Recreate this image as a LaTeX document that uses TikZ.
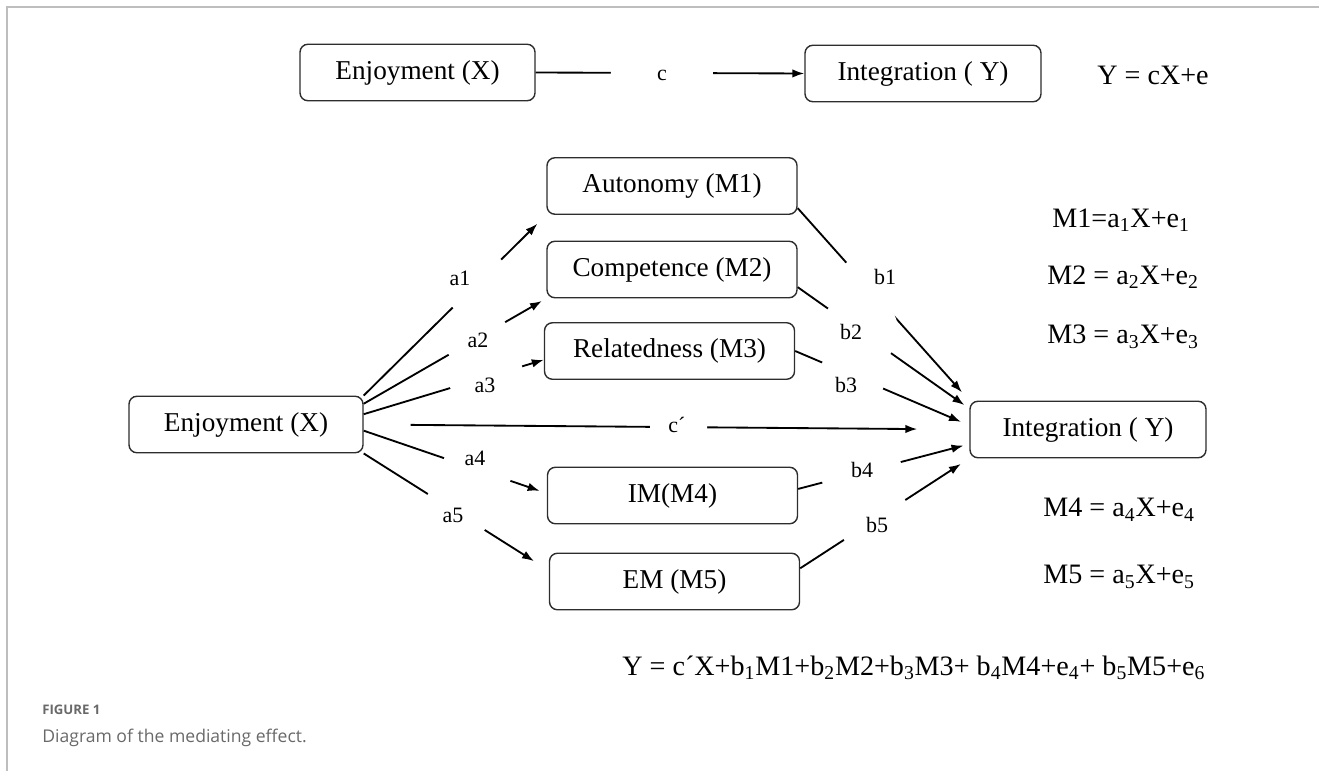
\documentclass[tikz,border=0pt]{standalone}
\usepackage{fontspec}
\setmainfont{Liberation Serif}
\newfontfamily\capfont{Open Sans}
\usetikzlibrary{arrows.meta}
\definecolor{framegray}{RGB}{190,190,190}
\definecolor{capgray}{RGB}{105,105,105}
\definecolor{boxline}{RGB}{45,45,45}
\tikzset{
  gap/.style={circle,fill=white,inner sep=0pt},
  pathlbl/.style={inner sep=0pt,font=\fontsize{12.5}{15}\selectfont},
  eqn/.style={anchor=west,inner sep=0pt,font=\fontsize{16}{19}\selectfont}
}
\begin{document}
\begin{tikzpicture}
        \useasboundingbox (0,0) rectangle (26.38,-15.42);
        \draw[framegray,line width=0.04cm] (0.14,-15.42) -- (0.14,-0.14) -- (26.38,-0.14);
        \begin{scope}[every node/.style={rectangle,draw=boxline,line width=0.8pt,rounded corners=4.5pt,
            minimum width=5cm,minimum height=1.13cm,inner sep=0pt,font=\fontsize{15.5}{18}\selectfont}]
          \node[minimum width=4.7cm]  (topX) at (8.35,-1.45)  {Enjoyment (X)};
          \node[minimum width=4.72cm] (topY) at (18.46,-1.47) {Integration ( Y)};
          \node[minimum width=4.68cm] (X)    at (4.92,-8.49)  {Enjoyment (X)};
          \node (M1) at (13.44,-3.72)  {Autonomy (M1)};
          \node (M2) at (13.44,-5.39)  {Competence (M2)};
          \node (M3) at (13.39,-7.02)  {Relatedness (M3)};
          \node (M4) at (13.45,-9.91)  {IM(M4)};
          \node (M5) at (13.49,-11.63) {EM (M5)};
          \node[minimum width=4.72cm] (Y) at (21.76,-8.59) {Integration ( Y)};
        \end{scope}
        \begin{scope}[every edge/.style={draw=black,line width=1.05pt,-{Latex[length=2.4mm,width=1.7mm]}}]
          \path (topX.east) edge node[gap,pos=.47,minimum size=2.04cm] (gc) {} (topY.west);
          \path (X.north east) edge[shorten >=2.5mm] node[gap,pos=.62,minimum size=1.36cm] (ga1) {} (M1.south west);
          \path (X.10) edge[shorten >=1mm] node[gap,pos=.62,minimum size=1.3cm] (ga2) {} (M2.south west);
          \path (X.5) edge node[gap,pos=.68,minimum size=1.5cm] (ga3) {} (M3.184);
          \path (X.east) edge[shorten <=9.4mm,shorten >=10.4mm] node[gap,pos=.52,minimum size=1.14cm] (gcp) {} (Y.west);
          \path (X.-3) edge[shorten >=1.5mm] node[gap,pos=.62,minimum size=1.4cm] (ga4) {} (M4.179);
          \path (X.south east) edge[shorten >=3.5mm] node[gap,pos=.5,minimum size=1.34cm] (ga5) {} (M5.175);
          \path (M1.-10) edge[shorten >=2.2mm] node[gap,pos=.39,minimum size=1.1cm] (gb1) {} (Y.north west);
          \path (M2.-8) edge[shorten >=1.2mm] node[gap,pos=.36,minimum size=1.54cm] (gb2) {} (Y.170);
          \path (M3.east) edge[shorten >=1.8mm] node[gap,pos=.33,minimum size=1.32cm] (gb3) {} (Y.178);
          \path (M4.3) edge[shorten >=1.2mm] node[gap,pos=.37,minimum size=1.62cm] (gb4) {} (Y.187);
          \path (M5.6) edge[shorten >=2mm] node[gap,pos=.44,minimum size=1.46cm] (gb5) {} (Y.south west);
        \end{scope}
        \node[pathlbl] (lc)  at (13.24,-1.5)  {c};
        \node[pathlbl] (la1) at (9.2,-5.56)   {a1};
        \node[pathlbl] (la2) at (9.56,-6.8)   {a2};
        \node[pathlbl] (la3) at (9.7,-7.7)    {a3};
        \node[pathlbl] (lcp) at (13.54,-8.5)  {c´};
        \node[pathlbl] (la4) at (9.5,-9.16)   {a4};
        \node[pathlbl] (la5) at (9.06,-10.3)  {a5};
        \node[pathlbl] (lb1) at (17.7,-5.54)  {b1};
        \node[pathlbl] (lb2) at (17.02,-6.64) {b2};
        \node[pathlbl] (lb3) at (16.92,-7.7)  {b3};
        \node[pathlbl] (lb4) at (17.24,-9.4)  {b4};
        \node[pathlbl] (lb5) at (17.54,-10.5) {b5};
        \node[eqn] (eqtop) at (21.94,-1.5)  {Y = cX+e};
        \node[eqn] (eqm1)  at (21.04,-4.4)  {M1=a\textsubscript{1}X+e\textsubscript{1}};
        \node[eqn] (eqm2)  at (20.94,-5.54) {M2 = a\textsubscript{2}X+e\textsubscript{2}};
        \node[eqn] (eqm3)  at (20.94,-6.74) {M3 = a\textsubscript{3}X+e\textsubscript{3}};
        \node[eqn] (eqm4)  at (20.86,-10.2) {M4 = a\textsubscript{4}X+e\textsubscript{4}};
        \node[eqn] (eqm5)  at (20.86,-11.54) {M5 = a\textsubscript{5}X+e\textsubscript{5}};
        \node[eqn] (eqy)   at (12.44,-13.36) {Y = c´X+b\textsubscript{1}M1+b\textsubscript{2}M2+b\textsubscript{3}M3+ b\textsubscript{4}M4+e\textsubscript{4}+ b\textsubscript{5}M5+e\textsubscript{6}};
        \node[anchor=west,inner sep=0pt,text=capgray,font=\capfont\bfseries\fontsize{7.5}{9}\selectfont] (figno) at (0.84,-14.2) {FIGURE 1};
        \node[anchor=west,inner sep=0pt,text=capgray,font=\capfont\fontsize{10}{12}\selectfont] (figcap) at (0.84,-14.76) {Diagram of the mediating effect.};
      \end{tikzpicture}
\end{document}
